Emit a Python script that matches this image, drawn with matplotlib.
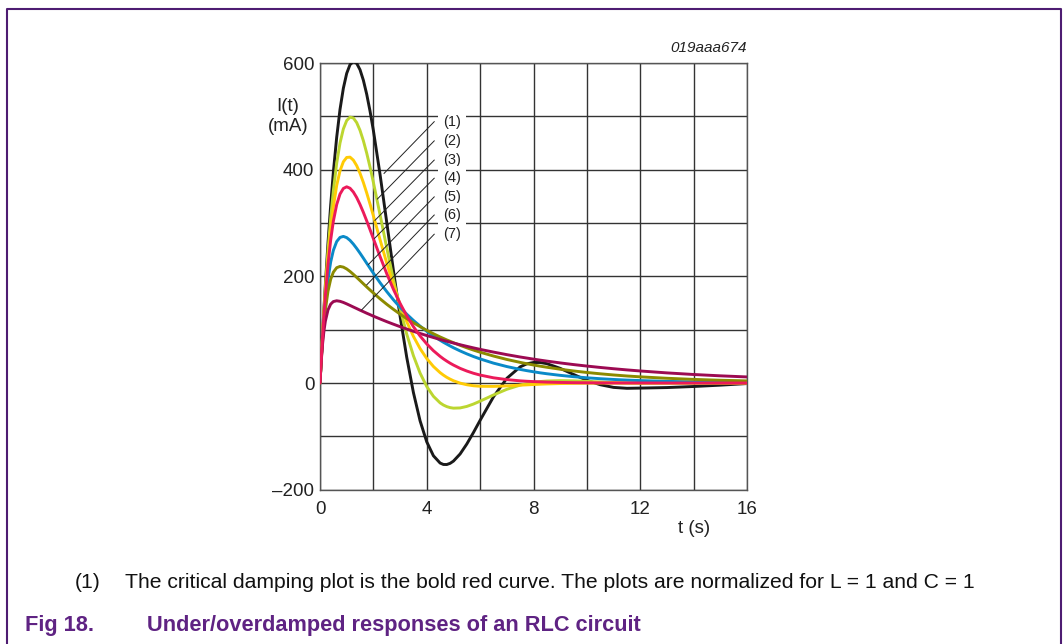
import matplotlib
matplotlib.use('Agg')
import matplotlib.pyplot as plt
from matplotlib.lines import Line2D

plt.rcParams['font.family'] = ['Liberation Sans', 'DejaVu Sans']

# time axis (s)
t = [0, 0.05, 0.1, 0.15, 0.2, 0.3, 0.4, 0.5, 0.625, 0.75, 0.875, 1.0, 1.125, 1.25, 1.375,
     1.5, 1.625, 1.75, 1.875, 2.0,
     2.25, 2.5, 2.75, 3.0, 3.25, 3.5, 3.75, 4.0, 4.25, 4.5, 4.625, 4.75, 4.875, 5.0,
     5.25, 5.5, 5.75, 6.0, 6.5, 7.0, 7.5, 7.75, 8.0, 8.25, 8.5, 9.0, 9.5, 10.0, 10.5,
     11.0, 11.5, 12.0, 13.0, 14.0, 15.0, 16.0]

# I(t) in mA (1)..(7)
i1 = [0, 49.0, 95.9, 140.8, 183.6, 262.7, 333.3, 395.2, 460.6, 513.0, 552.6, 580.5, 596.9,
      602.7, 599.4, 587.3, 567.7, 541.5, 509.8, 473.6,
      391.1, 301.6, 211.4, 125.6, 48.2, -17.8, -70.9, -110.3, -136.4, -150.0, -152.7, -152.8,
      -150.6, -146.4, -133.0, -114.4, -92.8, -69.9, -25.9, 8.8, 30.3, 36.0, 38.5, 38.5, 36.3,
      27.5, 16.1, 5.1, -3.2, -8.2, -9.9, -9.5, -8.5, -6.5, -4.0, -1.0]
i2 = [0, 48.5, 94.1, 136.8, 176.6, 248.2, 309.3, 360.6, 411.9, 450.0, 476.4, 492.1, 498.5,
      496.9, 488.2, 473.7, 454.3, 431.1, 404.8, 376.3,
      315.6, 253.6, 194.1, 139.6, 91.7, 51.3, 18.6, -6.6, -24.9, -37.2, -41.3, -44.2,
      -46.1, -47.1, -46.7, -43.9, -39.4, -34.0, -22.4, -11.8, -3.9, -1.0, 1.2, 2.8, 3.8,
      4.5, 4.1, 3.1, 2.0, 1.0, 0.2, -0.2, 0, 0, 0, 0]
i3 = [0, 48.0, 92.3, 132.9, 170.0, 234.7, 287.7, 330.2, 370.3, 397.9, 414.8, 422.9, 423.5,
      417.9, 407.5, 393.2, 376.0, 356.5, 335.5, 313.6,
      268.8, 225.0, 184.1, 147.2, 115.0, 87.5, 64.6, 45.9, 31.0, 19.5, 14.8, 10.7,
      7.3, 4.3, -0.2, -3.2, -5.1, -6.1, -6.3, -5.4, -4.0, -3.4, -2.8, -2.2, -1.7,
      -1.0, -0.5, -0.2, 0, 0, 0, 0, 0, 0, 0, 0]
i4 = [0, 47.6, 90.5, 129.1, 163.7, 222.2, 268.1, 303.3, 334.5, 354.3, 364.8, 367.9, 365.2,
      358.1, 347.7, 334.7, 320.0, 304.1, 287.5, 270.7,
      237.2, 205.2, 175.8, 149.4, 126.0, 105.7, 88.2, 73.3, 60.6, 50.0, 45.3, 41.1,
      37.2, 33.7, 27.5, 22.5, 18.3, 14.9, 9.8, 6.4, 4.1, 3.3, 2.7, 2.2, 1.7,
      1.1, 0.7, 0.5, 0.3, 0.2, 0.1, 0.1, 0, 0, 0, 0]
i5 = [0, 46.4, 86.2, 120.3, 149.4, 194.9, 226.9, 248.7, 265.2, 273.0, 274.9, 272.6, 267.5,
      260.5, 252.3, 243.4, 234.1, 224.6, 215.2, 205.9,
      188.1, 171.5, 156.1, 142.0, 129.1, 117.4, 106.7, 97.0, 88.2, 80.2, 76.4, 72.9,
      69.5, 66.2, 60.2, 54.7, 49.7, 45.2, 37.3, 30.9, 25.5, 23.2, 21.1, 19.1, 17.4,
      14.4, 11.9, 9.8, 8.1, 6.7, 5.5, 4.6, 3.1, 2.1, 1.5, 1.0]
i6 = [0, 45.3, 82.3, 112.4, 136.8, 172.2, 194.5, 207.8, 216.2, 218.6, 217.3, 213.9, 209.2,
      203.8, 198.0, 192.1, 186.1, 180.2, 174.4, 168.8,
      157.9, 147.7, 138.2, 129.2, 120.8, 113.0, 105.7, 98.8, 92.4, 86.4, 83.6, 80.8,
      78.2, 75.6, 70.7, 66.1, 61.8, 57.8, 50.6, 44.2, 38.7, 36.2, 33.8, 31.6, 29.6,
      25.9, 22.6, 19.8, 17.3, 15.1, 13.2, 11.6, 8.9, 6.8, 5.2, 4.0]
i7 = [0, 43.2, 75.1, 98.5, 115.7, 137.1, 147.9, 152.7, 154.2, 153.2, 151.1, 148.4, 145.5,
      142.5, 139.6, 136.6, 133.8, 130.9, 128.2, 125.4,
      120.2, 115.1, 110.3, 105.7, 101.2, 97.0, 92.9, 89.0, 85.3, 81.7, 79.9, 78.3,
      76.6, 75.0, 71.8, 68.8, 65.9, 63.1, 58.0, 53.2, 48.8, 46.8, 44.8, 42.9, 41.1,
      37.7, 34.6, 31.8, 29.2, 26.8, 24.6, 22.6, 19.0, 16.0, 13.5, 11.4]

labels = ['(1)', '(2)', '(3)', '(4)', '(5)', '(6)', '(7)']
label_y = [490, 454, 418, 384, 349, 315, 279]
# where each leader line touches its curve
lead_x = [2.40, 2.15, 2.06, 2.04, 1.81, 1.75, 1.56]
lead_y = [393, 345, 305, 271, 222, 184, 137]

x_ticks = [0, 4, 8, 12, 16]
y_ticks = [-200, 0, 200, 400, 600]
y_ticklabels = ['\u2013200', '0', '200', '400', '600']

colors = ['#1a1a1a', '#bcd630', '#ffcb05', '#ec1a5a', '#0a8ac8', '#8c8a00', '#9c0a52']

fig = plt.figure(figsize=(10.63, 6.44), dpi=100)
ax = fig.add_axes([320 / 1063, 1 - 489.7 / 644, 427 / 1063, 426.7 / 644])

curves = [i1, i2, i3, i4, i5, i6, i7]
order = [0, 1, 2, 4, 5, 6, 3]  # red on top
for k in order:
    ax.plot(t, curves[k], color=colors[k], lw=2.1, zorder=3,
            solid_capstyle='round', solid_joinstyle='round')

ax.set_xlim(0, 16)
ax.set_ylim(-200, 600)
ax.set_xticks(x_ticks)
ax.set_yticks(y_ticks)
ax.set_yticklabels(y_ticklabels)
ax.set_xticks(range(0, 17, 2), minor=True)
ax.set_yticks(range(-200, 601, 100), minor=True)
ax.grid(which='both', color='#333333', lw=1.0, zorder=0)
ax.set_axisbelow(True)
ax.tick_params(which='both', length=0, labelsize=13.5, colors='#222222')
ax.tick_params(axis='x', pad=8)
ax.tick_params(axis='y', pad=4)
for s in ax.spines.values():
    s.set_color('#555555')
    s.set_linewidth(1.0)

# leader lines and labels
for k in range(7):
    ax.plot([lead_x[k], 4.28], [lead_y[k], label_y[k]], color='#222222', lw=0.7,
            zorder=4, clip_on=False)
    ax.text(4.62, label_y[k], labels[k], fontsize=10.5, ha='left', va='center', zorder=5,
            color='#222222',
            bbox=dict(boxstyle='square,pad=0.35', fc='white', ec='none'))

ax.text(-1.2, 500, 'I(t)\n(mA)', fontsize=13.5, ha='center', va='center',
        linespacing=1.2, color='#222222')
ax.text(14.0, -272, 't (s)', fontsize=13.5, ha='center', va='center', clip_on=False,
        color='#222222')
ax.text(16, 628, '019aaa674', fontsize=11, style='italic', ha='right', va='center',
        clip_on=False, color='#222222')

# footnote and caption
fig.text(75 / 1063, 1 - 583 / 644, '(1)', fontsize=15.2, ha='left', va='center', color='#111111')
fig.text(125 / 1063, 1 - 583 / 644,
         'The critical damping plot is the bold red curve. The plots are normalized for L = 1 and C = 1',
         fontsize=15.2, ha='left', va='center', color='#111111')
fig.text(25 / 1063, 1 - 625 / 644, 'Fig 18.', fontsize=15.7, fontweight='bold',
         ha='left', va='center', color='#5f2383')
fig.text(147 / 1063, 1 - 625 / 644, 'Under/overdamped responses of an RLC circuit',
         fontsize=15.7, fontweight='bold', ha='left', va='center', color='#5f2383')

# purple frame, open at the bottom
fx0, fx1, fy = 7 / 1063, 1061 / 1063, 1 - 9 / 644
fig.add_artist(Line2D([fx0, fx0, fx1, fx1], [0, fy, fy, 0], transform=fig.transFigure,
                      color='#4e1c72', lw=1.5))

fig.savefig('out.png', dpi=100)
